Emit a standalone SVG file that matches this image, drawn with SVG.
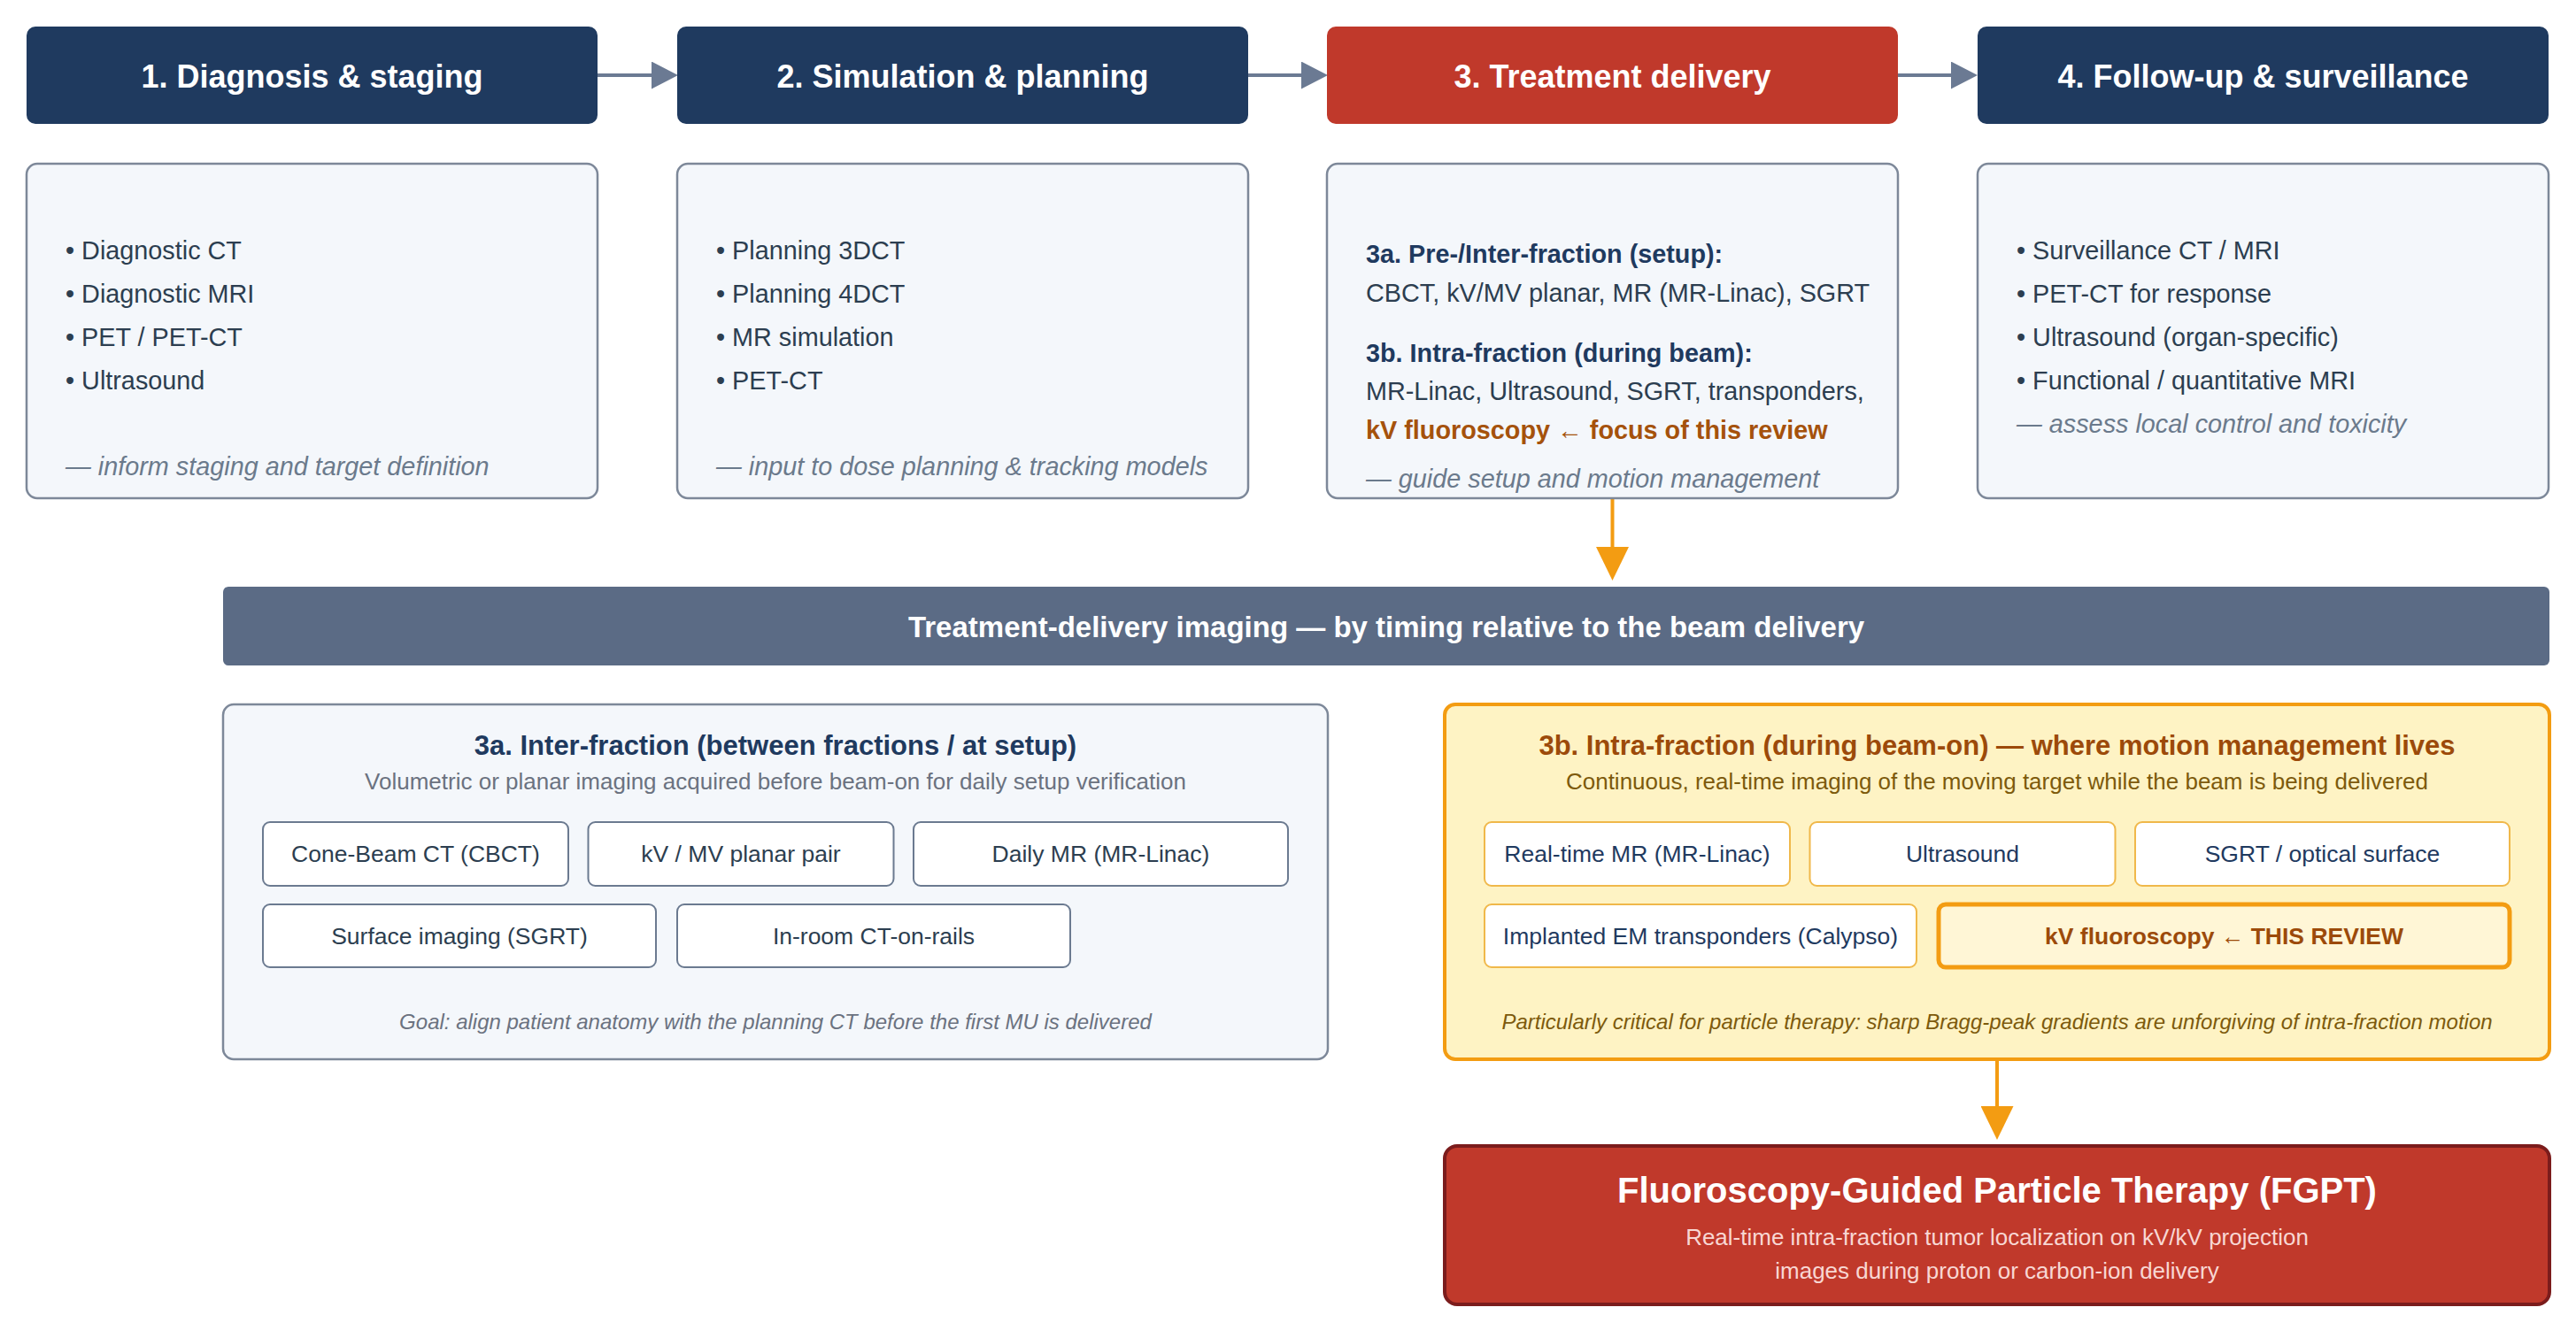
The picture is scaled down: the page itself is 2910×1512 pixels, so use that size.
<svg xmlns="http://www.w3.org/2000/svg" width="2910" height="1512" viewBox="0 0 2910 1512">
<defs>
<style>
text{font-family:"Liberation Sans",Arial,sans-serif}
.hdr{fill:#1f3a5f}
.hdr-red{fill:#c0392b}
.htxt{fill:#fff;font-size:36px;font-weight:bold;text-anchor:middle}
.card{fill:#f4f7fb;stroke:#7d8899;stroke-width:2.5}
.li{fill:#2c3e50;font-size:28.8px}
.sub{fill:#1f3a5f;font-size:28.8px;font-weight:bold}
.hi{fill:#a5520c;font-size:28.8px;font-weight:bold}
.note{fill:#6b7a8c;font-size:28.8px;font-style:italic}
.banner{fill:#5b6b85}
.btxt{fill:#fff;font-size:33px;font-weight:bold;text-anchor:middle}
.pA{fill:#f4f7fb;stroke:#7d8899;stroke-width:2.5}
.pB{fill:#fef3c4;stroke:#f39c12;stroke-width:4}
.ptA{fill:#1f3a5f;font-size:31px;font-weight:bold;text-anchor:middle}
.psA{fill:#6b7280;font-size:26px;text-anchor:middle}
.pnA{fill:#6b7280;font-size:24px;font-style:italic;text-anchor:middle}
.ptB{fill:#9c4a0a;font-size:31px;font-weight:bold;text-anchor:middle}
.psB{fill:#7d5a0c;font-size:26px;text-anchor:middle}
.pnB{fill:#7d5a0c;font-size:24px;font-style:italic;text-anchor:middle}
.chipA{fill:#fff;stroke:#6b7a90;stroke-width:2}
.chipB{fill:#fff;stroke:#f0b84a;stroke-width:2}
.chipK{fill:#fff6d6;stroke:#f39c12;stroke-width:5}
.ctA{fill:#2c3e50;font-size:26.5px;text-anchor:middle}
.ctB{fill:#1f3a5f;font-size:26.5px;text-anchor:middle}
.ctK{fill:#9c4a0a;font-size:26.5px;font-weight:bold;text-anchor:middle}
.fg{fill:#c0392b;stroke:#7b1c1c;stroke-width:4}
.fgt{fill:#fff;font-size:40px;font-weight:bold;text-anchor:middle}
.fgs{fill:#f8d7d3;font-size:26px;text-anchor:middle}
.cg{fill:none;stroke:#6b7a93;stroke-width:4}
.co{fill:none;stroke:#f39c12;stroke-width:4}
</style>
<marker id="ag" markerUnits="userSpaceOnUse" markerWidth="30" markerHeight="31" refX="0" refY="15.5" orient="auto">
<path d="M0,0 L30,15.5 L0,31 Z" fill="#6b7a93"/>
</marker>
<marker id="ao" markerUnits="userSpaceOnUse" markerWidth="38" markerHeight="37" refX="0" refY="18.5" orient="auto">
<path d="M0,0 L38,18.5 L0,37 Z" fill="#f39c12"/>
</marker>
</defs>
<rect width="2910" height="1512" fill="#fff"/>

<g id="connectors">
<path class="cg" d="M675,85 H736" marker-end="url(#ag)"/>
<path class="cg" d="M1410,85 H1470" marker-end="url(#ag)"/>
<path class="cg" d="M2144,85 H2204" marker-end="url(#ag)"/>
<path class="co" d="M1821.5,563 V618" marker-end="url(#ao)"/>
<path class="co" d="M2256,1197 V1250" marker-end="url(#ao)"/>
</g>

<g id="stage1">
<rect class="hdr" x="30" y="30" width="645" height="110" rx="10"/>
<text class="htxt" x="352.5" y="99">1. Diagnosis &amp; staging</text>
</g>
<g id="stage2">
<rect class="hdr" x="765" y="30" width="645" height="110" rx="10"/>
<text class="htxt" x="1087.5" y="99">2. Simulation &amp; planning</text>
</g>
<g id="stage3">
<rect class="hdr-red" x="1499" y="30" width="645" height="110" rx="10"/>
<text class="htxt" x="1821.5" y="99">3. Treatment delivery</text>
</g>
<g id="stage4">
<rect class="hdr" x="2234" y="30" width="645" height="110" rx="10"/>
<text class="htxt" x="2556.5" y="99">4. Follow-up &amp; surveillance</text>
</g>

<g id="card1">
<rect class="card" x="30" y="185" width="645" height="378" rx="12"/>
<text class="li" x="74" y="293">• Diagnostic CT</text>
<text class="li" x="74" y="342">• Diagnostic MRI</text>
<text class="li" x="74" y="391">• PET / PET-CT</text>
<text class="li" x="74" y="440">• Ultrasound</text>
<text class="note" x="74" y="537">— inform staging and target definition</text>
</g>
<g id="card2">
<rect class="card" x="765" y="185" width="645" height="378" rx="12"/>
<text class="li" x="809" y="293">• Planning 3DCT</text>
<text class="li" x="809" y="342">• Planning 4DCT</text>
<text class="li" x="809" y="391">• MR simulation</text>
<text class="li" x="809" y="440">• PET-CT</text>
<text class="note" x="809" y="537">— input to dose planning &amp; tracking models</text>
</g>
<g id="card3">
<rect class="card" x="1499" y="185" width="645" height="378" rx="12"/>
<text class="sub" x="1543" y="297">3a. Pre-/Inter-fraction (setup):</text>
<text class="li" x="1543" y="341">CBCT, kV/MV planar, MR (MR-Linac), SGRT</text>
<text class="sub" x="1543" y="409">3b. Intra-fraction (during beam):</text>
<text class="li" x="1543" y="452">MR-Linac, Ultrasound, SGRT, transponders,</text>
<text class="hi" x="1543" y="496">kV fluoroscopy ← focus of this review</text>
<text class="note" x="1543" y="551">— guide setup and motion management</text>
</g>
<g id="card4">
<rect class="card" x="2234" y="185" width="645" height="378" rx="12"/>
<text class="li" x="2278" y="293">• Surveillance CT / MRI</text>
<text class="li" x="2278" y="342">• PET-CT for response</text>
<text class="li" x="2278" y="391">• Ultrasound (organ-specific)</text>
<text class="li" x="2278" y="440">• Functional / quantitative MRI</text>
<text class="note" x="2278" y="489">— assess local control and toxicity</text>
</g>

<g id="banner">
<rect class="banner" x="252" y="663" width="2628" height="89" rx="6"/>
<text class="btxt" x="1566" y="720">Treatment-delivery imaging — by timing relative to the beam delivery</text>
</g>

<g id="panel3a">
<rect class="pA" x="252" y="796" width="1248" height="401" rx="12"/>
<text class="ptA" x="876" y="853">3a. Inter-fraction (between fractions / at setup)</text>
<text class="psA" x="876" y="892">Volumetric or planar imaging acquired before beam-on for daily setup verification</text>
<g id="chipA1"><rect class="chipA" x="297" y="929" width="345" height="72" rx="8"/><text class="ctA" x="469.5" y="974">Cone-Beam CT (CBCT)</text></g>
<g id="chipA2"><rect class="chipA" x="664.5" y="929" width="345" height="72" rx="8"/><text class="ctA" x="837" y="974">kV / MV planar pair</text></g>
<g id="chipA3"><rect class="chipA" x="1032" y="929" width="423" height="72" rx="8"/><text class="ctA" x="1243.5" y="974">Daily MR (MR-Linac)</text></g>
<g id="chipA4"><rect class="chipA" x="297" y="1022" width="444" height="71" rx="8"/><text class="ctA" x="519" y="1067">Surface imaging (SGRT)</text></g>
<g id="chipA5"><rect class="chipA" x="765" y="1022" width="444" height="71" rx="8"/><text class="ctA" x="987" y="1067">In-room CT-on-rails</text></g>
<text class="pnA" x="876" y="1163">Goal: align patient anatomy with the planning CT before the first MU is delivered</text>
</g>

<g id="panel3b">
<rect class="pB" x="1632" y="796" width="1248" height="401" rx="12"/>
<text class="ptB" x="2256" y="853">3b. Intra-fraction (during beam-on) — where motion management lives</text>
<text class="psB" x="2256" y="892">Continuous, real-time imaging of the moving target while the beam is being delivered</text>
<g id="chipB1"><rect class="chipB" x="1677" y="929" width="345" height="72" rx="8"/><text class="ctB" x="1849.5" y="974">Real-time MR (MR-Linac)</text></g>
<g id="chipB2"><rect class="chipB" x="2044.5" y="929" width="345" height="72" rx="8"/><text class="ctB" x="2217" y="974">Ultrasound</text></g>
<g id="chipB3"><rect class="chipB" x="2412" y="929" width="423" height="72" rx="8"/><text class="ctB" x="2623.5" y="974">SGRT / optical surface</text></g>
<g id="chipB4"><rect class="chipB" x="1677" y="1022" width="488" height="71" rx="8"/><text class="ctB" x="1921" y="1067">Implanted EM transponders (Calypso)</text></g>
<g id="chipB5"><rect class="chipK" x="2190" y="1022" width="645" height="71" rx="8"/><text class="ctK" x="2512.5" y="1067">kV fluoroscopy ← THIS REVIEW</text></g>
<text class="pnB" x="2256" y="1163">Particularly critical for particle therapy: sharp Bragg-peak gradients are unforgiving of intra-fraction motion</text>
</g>

<g id="fgpt">
<rect class="fg" x="1632" y="1295" width="1248" height="179" rx="14"/>
<text class="fgt" x="2256" y="1359">Fluoroscopy-Guided Particle Therapy (FGPT)</text>
<text class="fgs" x="2256" y="1407">Real-time intra-fraction tumor localization on kV/kV projection</text>
<text class="fgs" x="2256" y="1445">images during proton or carbon-ion delivery</text>
</g>
</svg>
